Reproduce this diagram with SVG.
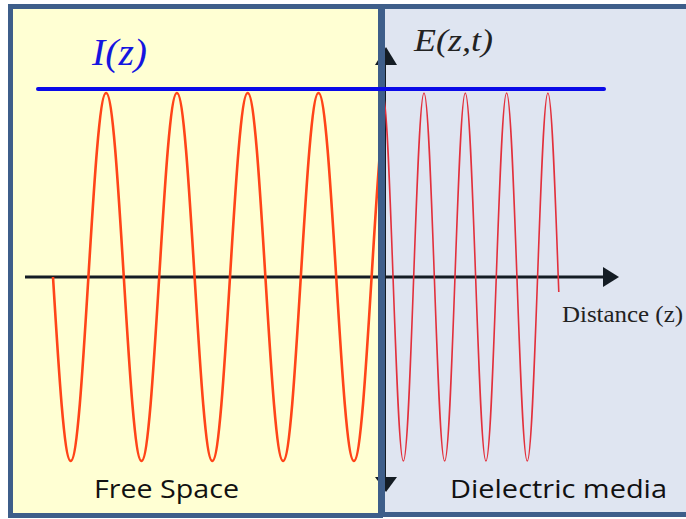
<svg xmlns="http://www.w3.org/2000/svg" width="686" height="519" viewBox="0 0 686 519">
<style>
.panel{stroke:#3e5e8a;stroke-width:5}
.serif{font-family:"Liberation Serif","Times New Roman",serif}
.sans{font-family:"Open Sans","Liberation Sans",Arial,sans-serif;font-size:26px;fill:#111}
.axis{stroke:#141c24;stroke-width:3;fill:none}
.ah{fill:#141c24}
</style>
<defs>
<clipPath id="leftClip"><rect x="0" y="0" width="380" height="519"/></clipPath>
</defs>
<g id="free-space-panel">
<rect x="10.5" y="6.5" width="370" height="509" fill="#ffffd3"/>
</g>
<g id="dielectric-panel">
<rect x="382.5" y="6.5" width="310" height="508" fill="#dfe5f1"/>
</g>
<g id="axes">
<line class="axis" x1="25" y1="277" x2="605" y2="277"/>
<polygon class="ah" points="603,267 619,277 603,287"/>
<line class="axis" x1="385" y1="60" x2="385" y2="480" style="stroke-width:2"/>
<polygon class="ah" points="375,65 386,47 397,65"/>
<polygon class="ah" points="375,477 386,492 397,477"/>
</g>
<g id="waves" fill="none">
<path clip-path="url(#leftClip)" stroke="#ff4418" stroke-width="2.6" d="M53,277 C58.77,371.26 64.29,461 70.7,461 S82.63,371.26 88.4,277 S99.69,93 106.1,93 S118.03,182.74 123.8,277 S135.09,461 141.5,461 S153.43,371.26 159.2,277 S170.49,93 176.9,93 S188.83,182.74 194.6,277 S205.89,461 212.3,461 S224.23,371.26 230,277 S241.29,93 247.7,93 S259.63,182.74 265.4,277 S276.69,461 283.1,461 S295.03,371.26 300.8,277 S312.09,93 318.5,93 S330.43,182.74 336.2,277 S347.49,461 353.9,461 S365.83,371.26 371.6,277 S382.89,93 389.3,93"/>
<path stroke="#e2303c" stroke-width="1.6" d="M382.7,93 C386.44,93 389.66,182.74 393.03,277 S399.61,461 403.35,461 S410.31,371.26 413.68,277 S420.26,93 424,93 S430.96,182.74 434.33,277 S440.91,461 444.65,461 S451.61,371.26 454.98,277 S461.56,93 465.3,93 S472.26,182.74 475.63,277 S482.21,461 485.95,461 S492.91,371.26 496.28,277 S502.86,93 506.6,93 S513.56,182.74 516.93,277 S523.51,461 527.25,461 S534.21,371.26 537.58,277 S544.16,93 547.9,93 S554.86,182.74 558.23,277 L558.8,292"/>
</g>
<g id="borders" fill="none">
<rect class="panel" x="10.5" y="6.5" width="370" height="509"/>
<rect class="panel" x="382.5" y="6.5" width="310" height="508"/>
</g>
<g id="intensity-line">
<line x1="38" y1="89" x2="604" y2="89" stroke="#0a0ae8" stroke-width="4" stroke-linecap="round"/>
</g>
<g id="labels">
<text class="serif" x="92" y="65" font-size="38" font-style="italic" fill="#1515e0" textLength="55" lengthAdjust="spacingAndGlyphs">I(z)</text>
<text class="serif" x="414" y="51" font-size="32" font-style="italic" fill="#222" textLength="79" lengthAdjust="spacingAndGlyphs">E(z,t)</text>
<text class="serif" x="562" y="322" font-size="24" fill="#222" textLength="121" lengthAdjust="spacingAndGlyphs">Distance (z)</text>
<text class="sans" x="94" y="498" textLength="145" lengthAdjust="spacingAndGlyphs">Free Space</text>
<text class="sans" x="450" y="498" textLength="217" lengthAdjust="spacingAndGlyphs">Dielectric media</text>
</g>
</svg>
